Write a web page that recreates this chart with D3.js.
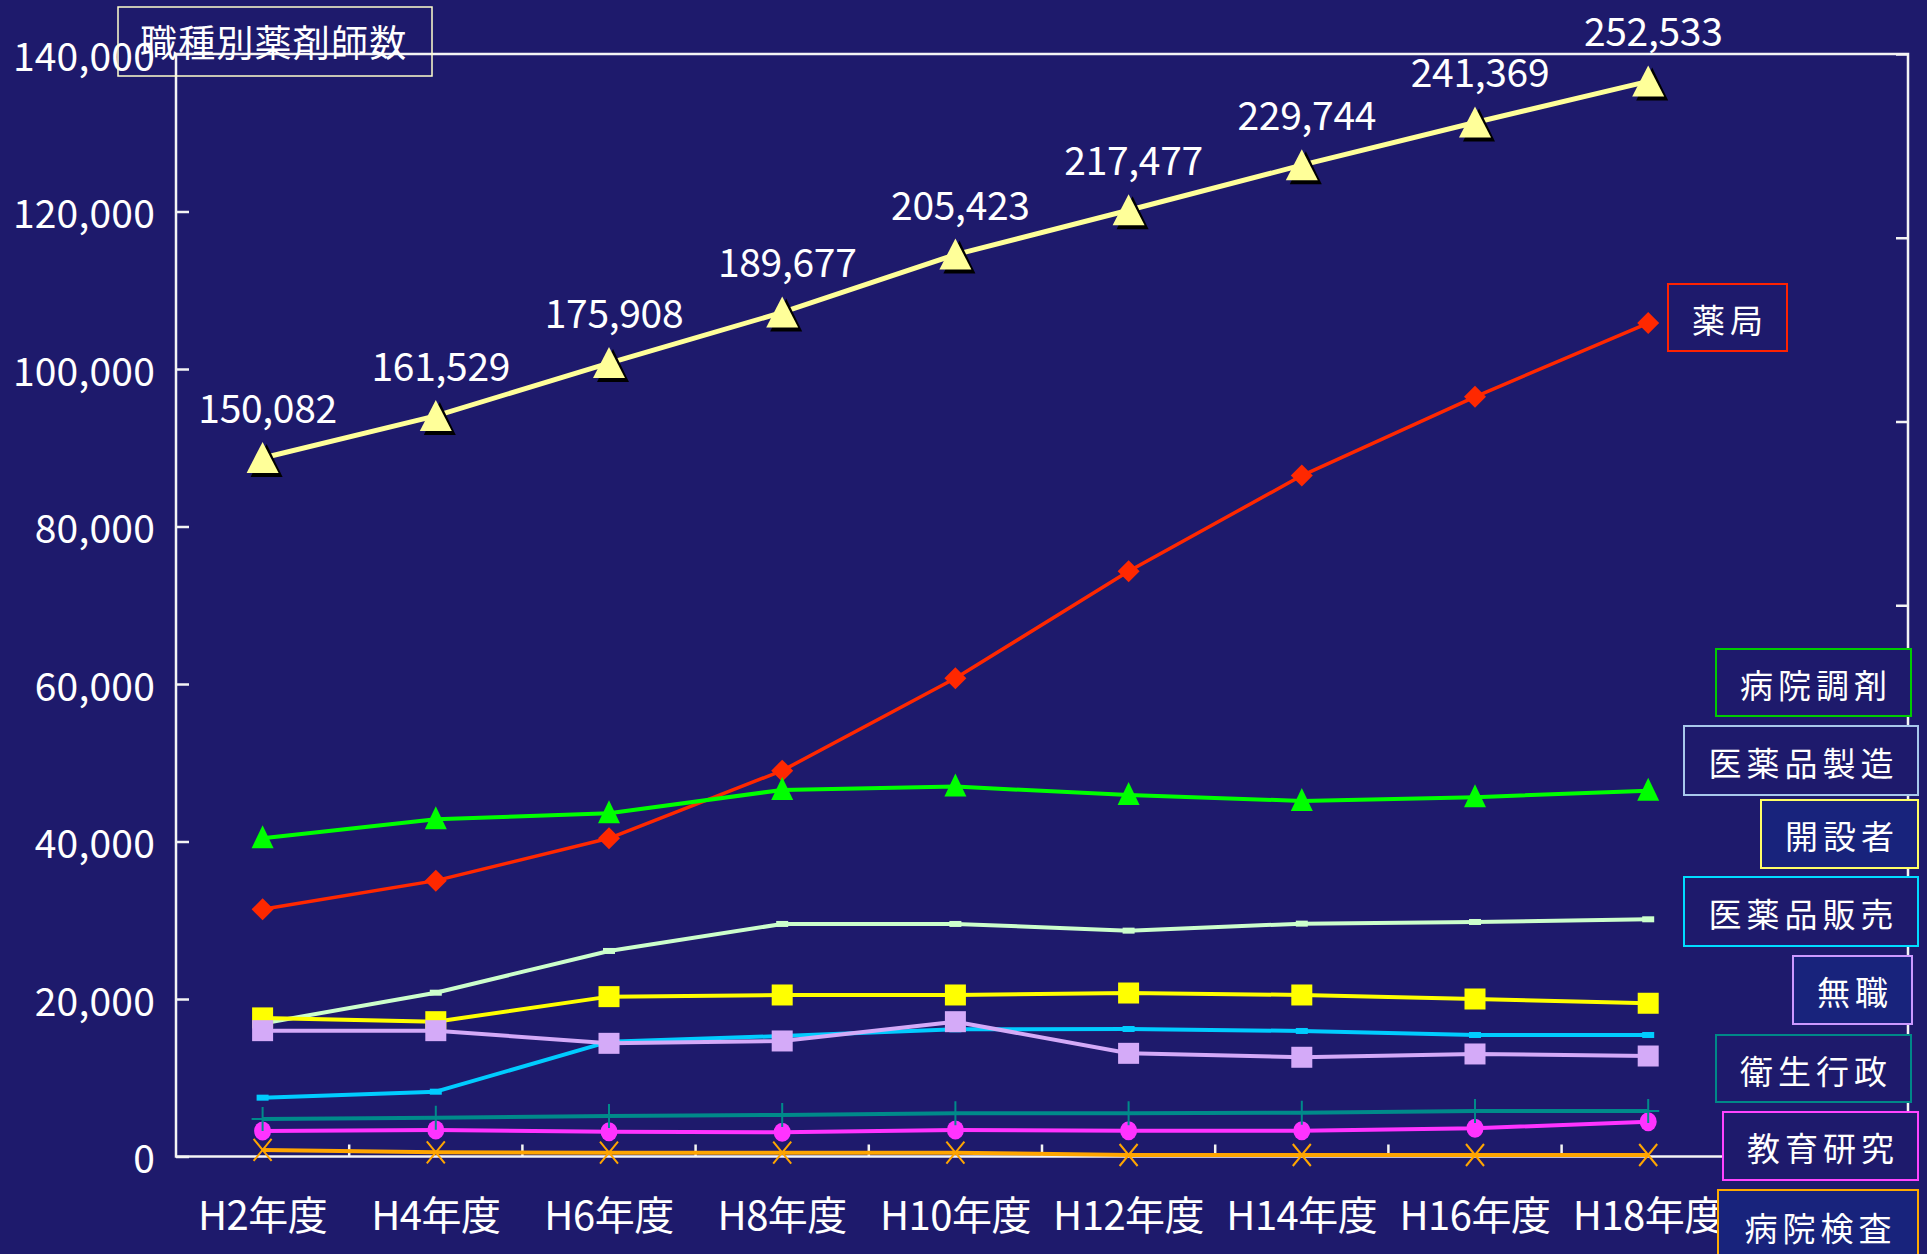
<!DOCTYPE html>
<html><head><meta charset="utf-8">
<script src="https://cdn.jsdelivr.net/npm/d3@7"></script>
<style>
html,body{margin:0;padding:0;background:#1e1a6c;}
svg{display:block;}
text{font-family:"Noto Sans CJK JP","Noto Sans",sans-serif;fill:#ffffff;}
</style>
</head><body>
<svg id="chart" width="1927" height="1254"></svg>
<script>
// ---------------- data ----------------
const categories = ["H2年度","H4年度","H6年度","H8年度","H10年度","H12年度","H14年度","H16年度","H18年度"];
const totalValues = [150082,161529,175908,189677,205423,217477,229744,241369,252533];
const pharmacy           = [31390,35030,40410,49000,60720,74310,86470,96470,105830];
const hospitalDispensing = [40410,42820,43590,46550,46970,45910,45150,45620,46460];
const manufacturing      = [16900,20800,26100,29530,29530,28680,29570,29780,30120];
const founders           = [17600,17120,20300,20510,20510,20760,20510,20000,19460];
const sales              = [7470,8230,14580,15300,16150,16190,15940,15430,15430];
const unemployed         = [15980,15980,14370,14670,17120,13100,12600,13020,12760];
const publicHealth       = [4760,4930,5140,5270,5490,5490,5570,5780,5780];
const education          = [3240,3370,3150,3070,3370,3280,3280,3580,4420];
const hospitalLab        = [830,530,480,480,480,190,190,190,190];
const seriesNames = ["薬局","病院調剤","医薬品製造","開設者","医薬品販売","無職","衛生行政","教育研究","病院検査"];
const yTicks  = [0,20000,40000,60000,80000,100000,120000,140000];
const y2Ticks = [-40000,10000,60000,110000,160000,210000,260000];
const chartTitle = "職種別薬剤師数";

// ---------------- styles / layout ----------------
const BG = "#1e1a6c";
const plot = {left:176, right:1908, top:54, bottom:1156.5};
const seriesStyle = [
  {values:pharmacy,           color:"#ff2800", width:3.5, marker:"diamond"},
  {values:hospitalDispensing, color:"#00ff00", width:4,   marker:"triangle"},
  {values:manufacturing,      color:"#ccffcc", width:4,   marker:"dash"},
  {values:founders,           color:"#ffff00", width:4,   marker:"square"},
  {values:sales,              color:"#00ccff", width:4,   marker:"dash"},
  {values:unemployed,         color:"#d4aaf8", width:4,   marker:"square"},
  {values:education,          color:"#ff33ff", width:4,   marker:"circle"},
  {values:publicHealth,       color:"#008a8a", width:4,   marker:"plus"},
  {values:hospitalLab,        color:"#ffa500", width:4,   marker:"x"}
];
const legendLayout = {
  "薬局":     {x:1668,y:284, w:119,h:67, stroke:"#ff2200", fill:BG},
  "病院調剤": {x:1716,y:649, w:195,h:67, stroke:"#00cc00", fill:BG},
  "医薬品製造":{x:1684,y:726, w:234,h:69, stroke:"#a8c8ec", fill:BG},
  "開設者":   {x:1761,y:800, w:157,h:68, stroke:"#ffff66", fill:"#18237c"},
  "医薬品販売":{x:1684,y:877, w:234,h:69, stroke:"#00ddff", fill:BG},
  "無職":     {x:1793,y:956, w:119,h:68, stroke:"#cc99ff", fill:"#18237c"},
  "衛生行政": {x:1716,y:1035,w:195,h:67, stroke:"#008888", fill:BG},
  "教育研究": {x:1723,y:1112,w:195,h:68, stroke:"#ff44ff", fill:BG},
  "病院検査": {x:1718,y:1190,w:200,h:72, stroke:"#ffaa00", fill:"#18237c"}
};

const svg = d3.select("#chart");
svg.append("rect").attr("width",1927).attr("height",1254).attr("fill",BG);

const xDomain = categories.concat([" "]);
const x = d3.scaleBand().domain(xDomain).range([plot.left, plot.right]);
const xc = i => x(categories[i]) + x.bandwidth()/2;
const y  = d3.scaleLinear().domain([0,140000]).range([plot.bottom, plot.top]);
const y2 = d3.scaleLinear().domain([-40000,260000]).range([plot.bottom, plot.top]);

// ---------------- axes ----------------
const axisCol = "#f4f4f4";
const gy = svg.append("g").attr("transform",`translate(${plot.left},0)`)
  .call(d3.axisLeft(y).tickValues(yTicks).tickSize(-13).tickPadding(21).tickFormat(d3.format(",")));
gy.selectAll("text").attr("font-size",39).attr("dy","0.42em").attr("letter-spacing",0.2).attr("fill","#fff");
gy.selectAll("line,path").attr("stroke",axisCol).attr("stroke-width",2.5);
gy.select("path").remove();

const gy2 = svg.append("g").attr("transform",`translate(${plot.right},0)`)
  .call(d3.axisRight(y2).tickValues(y2Ticks).tickSize(-12).tickFormat(""));
gy2.selectAll("line").attr("stroke",axisCol).attr("stroke-width",2.5);
gy2.select("path").remove();

// plot frame
svg.append("rect").attr("x",plot.left).attr("y",plot.top)
  .attr("width",plot.right-plot.left).attr("height",plot.bottom-plot.top)
  .attr("fill","none").attr("stroke",axisCol).attr("stroke-width",2.5);

// x ticks at category boundaries
svg.append("g").selectAll("line").data(xDomain.slice(1)).join("line")
  .attr("x1",d=>x(d)).attr("x2",d=>x(d))
  .attr("y1",plot.bottom).attr("y2",plot.bottom-12)
  .attr("stroke",axisCol).attr("stroke-width",2.5);

// x labels
const gx = svg.append("g").attr("transform",`translate(0,${plot.bottom})`)
  .call(d3.axisBottom(x).tickValues(categories).tickSize(0).tickPadding(0));
gx.select("path").remove();
gx.selectAll("text").attr("font-size",40).attr("dy",0).attr("y",73).attr("letter-spacing",-0.5).attr("fill","#fff");

// ---------------- series ----------------
function drawMarker(g, type, cx, cy, color){
  if(type==="diamond"){
    g.append("path").attr("d",`M${cx},${cy-11}L${cx+11},${cy}L${cx},${cy+11}L${cx-11},${cy}Z`).attr("fill",color);
  } else if(type==="triangle"){
    g.append("path").attr("d",`M${cx},${cy-13}L${cx+11},${cy+10}L${cx-11},${cy+10}Z`).attr("fill",color);
  } else if(type==="square"){
    g.append("rect").attr("x",cx-10.5).attr("y",cy-10.5).attr("width",21).attr("height",21).attr("fill",color);
  } else if(type==="dash"){
    g.append("rect").attr("x",cx-6).attr("y",cy-3).attr("width",12).attr("height",6).attr("fill",color);
  } else if(type==="circle"){
    g.append("ellipse").attr("cx",cx).attr("cy",cy).attr("rx",8.5).attr("ry",9.5).attr("fill",color);
  } else if(type==="plus"){
    g.append("path").attr("d",`M${cx},${cy-12}V${cy+12}M${cx-11},${cy}H${cx+11}`)
      .attr("stroke",color).attr("stroke-width",2).attr("fill","none");
  } else if(type==="x"){
    g.append("path").attr("d",`M${cx-9},${cy-11}L${cx+9},${cy+11}M${cx+9},${cy-11}L${cx-9},${cy+11}`)
      .attr("stroke",color).attr("stroke-width",2).attr("fill","none");
  }
}

const line = d3.line().x((d,i)=>xc(i)).y(d=>y(d));
seriesStyle.forEach(s=>{
  const g = svg.append("g");
  g.append("path").datum(s.values).attr("d",line).attr("fill","none")
    .attr("stroke",s.color).attr("stroke-width",s.width).attr("stroke-linejoin","round");
  s.values.forEach((v,i)=>drawMarker(g, s.marker, xc(i), y(v), s.color));
});

// total (secondary axis)
const line2 = d3.line().x((d,i)=>xc(i)).y(d=>y2(d));
const gt = svg.append("g");
gt.append("path").datum(totalValues).attr("d",line2).attr("fill","none")
  .attr("stroke","#ffff99").attr("stroke-width",5).attr("stroke-linejoin","round");
totalValues.forEach((v,i)=>{
  const cx = xc(i), cy = y2(v);
  gt.append("path").attr("d",`M${cx+4},${cy-14}L${cx+20},${cy+19}L${cx-12},${cy+19}Z`).attr("fill","#000");
  gt.append("path").attr("d",`M${cx},${cy-16}L${cx+16},${cy+15}L${cx-16},${cy+15}Z`).attr("fill","#ffff99");
  gt.append("text").attr("x",cx+5).attr("y",cy-35).attr("text-anchor","middle")
    .attr("font-size",39).attr("letter-spacing",-0.3).text(d3.format(",")(v));
});

// ---------------- legend labels ----------------
seriesNames.forEach(name=>{
  const L = legendLayout[name];
  svg.append("rect").attr("x",L.x).attr("y",L.y).attr("width",L.w).attr("height",L.h)
    .attr("fill",L.fill).attr("stroke",L.stroke).attr("stroke-width",2);
  svg.append("text").attr("x",L.x+L.w/2+2.5).attr("y",L.y+L.h/2+1)
    .attr("text-anchor","middle").attr("dominant-baseline","central")
    .attr("font-size",33).attr("letter-spacing",5).text(name);
});

// ---------------- title ----------------
svg.append("rect").attr("x",118).attr("y",7).attr("width",314).attr("height",69)
  .attr("fill","none").attr("stroke","#ffffcc").attr("stroke-width",1.5);
svg.append("text").attr("x",140).attr("y",57).attr("font-size",37).attr("letter-spacing",1.2).text(chartTitle);
</script>
</body></html>
